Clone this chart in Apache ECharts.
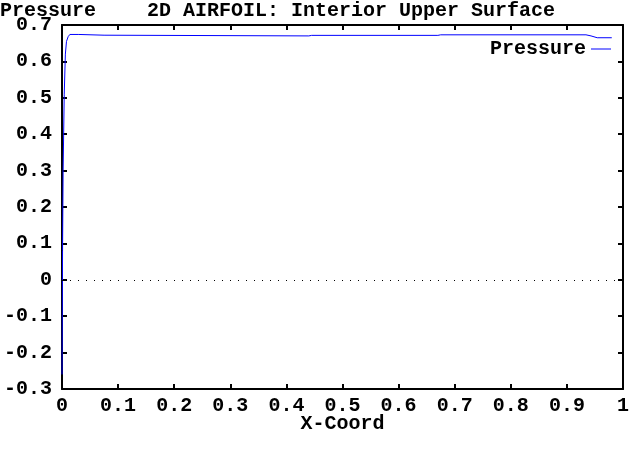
<!DOCTYPE html>
<html>
<head>
<meta charset="utf-8">
<script src="https://cdn.jsdelivr.net/npm/echarts@6/dist/echarts.min.js"></script>
<style>
html,body{margin:0;padding:0;background:#fff;}
#c{width:640px;height:450px;}
</style>
</head>
<body>
<div id="c"></div>
<script>
var xCoord = [0.0, 0.001, 0.002, 0.004, 0.006, 0.008, 0.011, 0.014, 0.03, 0.033, 0.075, 0.078, 0.44, 0.445, 0.67, 0.675, 0.934, 0.943, 0.954, 0.98];
var pressure = [-0.26, 0.08, 0.3, 0.51, 0.62, 0.655, 0.668, 0.674, 0.674, 0.672, 0.672, 0.670, 0.670, 0.6715, 0.6715, 0.673, 0.673, 0.670, 0.665, 0.665];
var xTicks = [0, 0.1, 0.2, 0.3, 0.4, 0.5, 0.6, 0.7, 0.8, 0.9, 1];
var yTicks = [-0.3, -0.2, -0.1, 0, 0.1, 0.2, 0.3, 0.4, 0.5, 0.6, 0.7];
var seriesName = 'Pressure';
var titleText = '2D AIRFOIL: Interior Upper Surface';
var yLabel = 'Pressure';
var xLabel = 'X-Coord';

var FONT = 'Liberation Mono';
var txt = {fontFamily: FONT, fontSize: 20, fontWeight: 'bold', color: '#000'};
function fmt(v){ return (Math.round(v*10)/10).toString(); }

var chart = echarts.init(document.getElementById('c'), null, {renderer: 'canvas'});
var data = xCoord.map(function(x, i){ return [x, pressure[i]]; });
var axLine = {show: true, onZero: false, lineStyle: {color: '#000', width: 2}};
var tick = {show: true, inside: true, length: 5, lineStyle: {color: '#000', width: 2}};
chart.setOption({
  animation: false,
  backgroundColor: '#fff',
  title: [
    {text: yLabel, left: -5, top: -4, textStyle: txt},
    {text: titleText, left: 142, top: -4, textStyle: txt}
  ],
  legend: {
    right: 24, top: 34, align: 'right', icon: 'rect', itemWidth: 20, itemHeight: 1,
    itemGap: 0, textStyle: txt, data: [seriesName]
  },
  grid: {left: 62, right: 17, top: 25, bottom: 61},
  xAxis: [{
    type: 'value', min: 0, max: 1, interval: 0.1, position: 'bottom',
    axisLine: axLine, axisTick: tick, splitLine: {show: false},
    axisLabel: Object.assign({margin: 7, formatter: fmt}, txt),
    name: xLabel, nameLocation: 'middle', nameGap: 25, nameMoveOverlap: false, nameTextStyle: txt
  }, {
    type: 'value', min: 0, max: 1, interval: 0.1, position: 'top',
    axisLine: axLine, axisTick: tick, splitLine: {show: false}, axisLabel: {show: false}
  }],
  yAxis: [{
    type: 'value', min: -0.3, max: 0.7, interval: 0.1, position: 'left',
    axisLine: axLine, axisTick: tick, splitLine: {show: false},
    axisLabel: Object.assign({margin: 10, formatter: fmt}, txt)
  }, {
    type: 'value', min: -0.3, max: 0.7, interval: 0.1, position: 'right',
    axisLine: axLine, axisTick: tick, splitLine: {show: false}, axisLabel: {show: false}
  }],
  series: [{
    name: seriesName, type: 'line', data: data, showSymbol: false, symbol: 'none',
    lineStyle: {color: '#0000ff', width: 1}, itemStyle: {color: '#0000ff'},
    z: 1,
    markLine: {
      silent: true, symbol: 'none', label: {show: false},
      lineStyle: {color: '#000', type: [1, 7], width: 1},
      data: [{yAxis: 0}]
    }
  }]
});
</script>
</body>
</html>
